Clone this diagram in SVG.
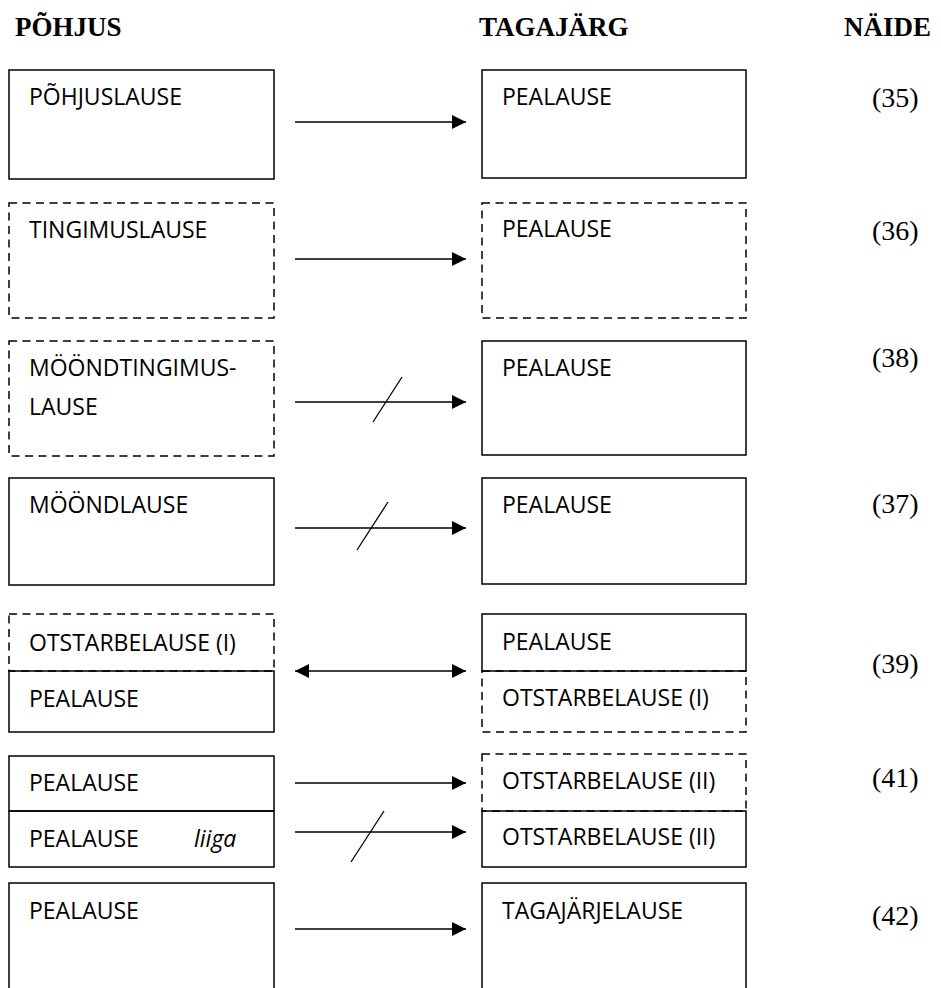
<svg xmlns="http://www.w3.org/2000/svg" width="941" height="988" viewBox="0 0 941 988">
<style>
.hd{font-family:"Liberation Serif","Times New Roman",serif;font-weight:bold;font-size:27px;fill:#000}
.ex{font-family:"Liberation Serif","Times New Roman",serif;font-size:28px;fill:#000}
.t{font-family:"Open Sans","Liberation Sans",sans-serif;font-size:23px;fill:#000}
.it{font-style:italic}
.b{fill:none;stroke:#000;stroke-width:1.5}
.d{fill:none;stroke:#000;stroke-width:1.5;stroke-dasharray:8 5.5}
.c{stroke:#000;stroke-width:1.5;fill:none}
.s{stroke:#000;stroke-width:1.3;fill:none}
</style>
<defs>
<marker id="ah" markerWidth="14" markerHeight="14" viewBox="0 0 14 14" refX="14" refY="7" orient="auto" markerUnits="userSpaceOnUse">
<path d="M0,0 L14,7 L0,14 Z" fill="#000"/>
</marker>
<marker id="ahs" markerWidth="14" markerHeight="14" viewBox="0 0 14 14" refX="14" refY="7" orient="auto-start-reverse" markerUnits="userSpaceOnUse">
<path d="M0,0 L14,7 L0,14 Z" fill="#000"/>
</marker>
</defs>

<g id="headers">
<text class="hd" x="15" y="36">PÕHJUS</text>
<text class="hd" x="479" y="36">TAGAJÄRG</text>
<text class="hd" x="844" y="36">NÄIDE</text>
</g>

<g id="row1-cause"><rect class="b" x="9" y="70" width="265" height="109"/><text class="t" x="29" y="105">PÕHJUSLAUSE</text></g>
<g id="row1-effect"><rect class="b" x="482" y="70" width="264" height="108"/><text class="t" x="502" y="105">PEALAUSE</text></g>
<g id="row1-ex"><text class="ex" x="872" y="107">(35)</text></g>

<g id="row2-cause"><rect class="d" x="9" y="203" width="265" height="115"/><text class="t" x="29" y="238">TINGIMUSLAUSE</text></g>
<g id="row2-effect"><rect class="d" x="482" y="203" width="264" height="115"/><text class="t" x="502" y="237">PEALAUSE</text></g>
<g id="row2-ex"><text class="ex" x="872" y="240">(36)</text></g>

<g id="row3-cause"><rect class="d" x="9" y="341" width="265" height="115"/><text class="t" x="29" y="376">MÖÖNDTINGIMUS-</text><text class="t" x="29" y="415">LAUSE</text></g>
<g id="row3-effect"><rect class="b" x="482" y="341" width="264" height="114"/><text class="t" x="502" y="376">PEALAUSE</text></g>
<g id="row3-ex"><text class="ex" x="872" y="367">(38)</text></g>

<g id="row4-cause"><rect class="b" x="9" y="478" width="265" height="107"/><text class="t" x="29" y="513">MÖÖNDLAUSE</text></g>
<g id="row4-effect"><rect class="b" x="482" y="478" width="264" height="106"/><text class="t" x="502" y="513">PEALAUSE</text></g>
<g id="row4-ex"><text class="ex" x="872" y="513">(37)</text></g>

<g id="row5-cause">
<rect class="d" x="9" y="614" width="265" height="57"/>
<rect class="b" x="9" y="671" width="265" height="61"/>
<text class="t" x="29" y="651">OTSTARBELAUSE (I)</text>
<text class="t" x="29" y="707">PEALAUSE</text>
</g>
<g id="row5-effect">
<rect class="d" x="482" y="671" width="264" height="61"/>
<rect class="b" x="482" y="614" width="264" height="57"/>
<text class="t" x="502" y="650">PEALAUSE</text>
<text class="t" x="502" y="706">OTSTARBELAUSE (I)</text>
</g>
<g id="row5-ex"><text class="ex" x="872" y="673">(39)</text></g>

<g id="row6-cause">
<rect class="b" x="9" y="756" width="265" height="55"/>
<rect class="b" x="9" y="811" width="265" height="56"/>
<text class="t" x="29" y="791">PEALAUSE</text>
<text class="t" x="29" y="847">PEALAUSE</text>
<text class="t it" x="194" y="847">liiga</text>
</g>
<g id="row6-effect">
<rect class="d" x="482" y="754" width="264" height="57"/>
<rect class="b" x="482" y="811" width="264" height="56"/>
<text class="t" x="502" y="789">OTSTARBELAUSE (II)</text>
<text class="t" x="502" y="845">OTSTARBELAUSE (II)</text>
</g>
<g id="row6-ex"><text class="ex" x="872" y="787">(41)</text></g>

<g id="row7-cause"><rect class="b" x="9" y="883" width="265" height="120"/><text class="t" x="29" y="919">PEALAUSE</text></g>
<g id="row7-effect"><rect class="b" x="482" y="883" width="264" height="120"/><text class="t" x="502" y="919">TAGAJÄRJELAUSE</text></g>
<g id="row7-ex"><text class="ex" x="872" y="925">(42)</text></g>

<g id="connectors">
<line class="c" x1="295" y1="122" x2="466" y2="122" marker-end="url(#ah)"/>
<line class="c" x1="295" y1="259" x2="466" y2="259" marker-end="url(#ah)"/>
<line class="c" x1="295" y1="402" x2="466" y2="402" marker-end="url(#ah)"/>
<line class="s" x1="373" y1="422" x2="402" y2="377"/>
<line class="c" x1="295" y1="528" x2="466" y2="528" marker-end="url(#ah)"/>
<line class="s" x1="357" y1="550" x2="388" y2="502"/>
<line class="c" x1="295" y1="671" x2="466" y2="671" marker-start="url(#ahs)" marker-end="url(#ah)"/>
<line class="c" x1="295" y1="783" x2="466" y2="783" marker-end="url(#ah)"/>
<line class="c" x1="295" y1="832" x2="466" y2="832" marker-end="url(#ah)"/>
<line class="s" x1="351" y1="862" x2="384" y2="811"/>
<line class="c" x1="295" y1="929" x2="466" y2="929" marker-end="url(#ah)"/>
</g>
</svg>
